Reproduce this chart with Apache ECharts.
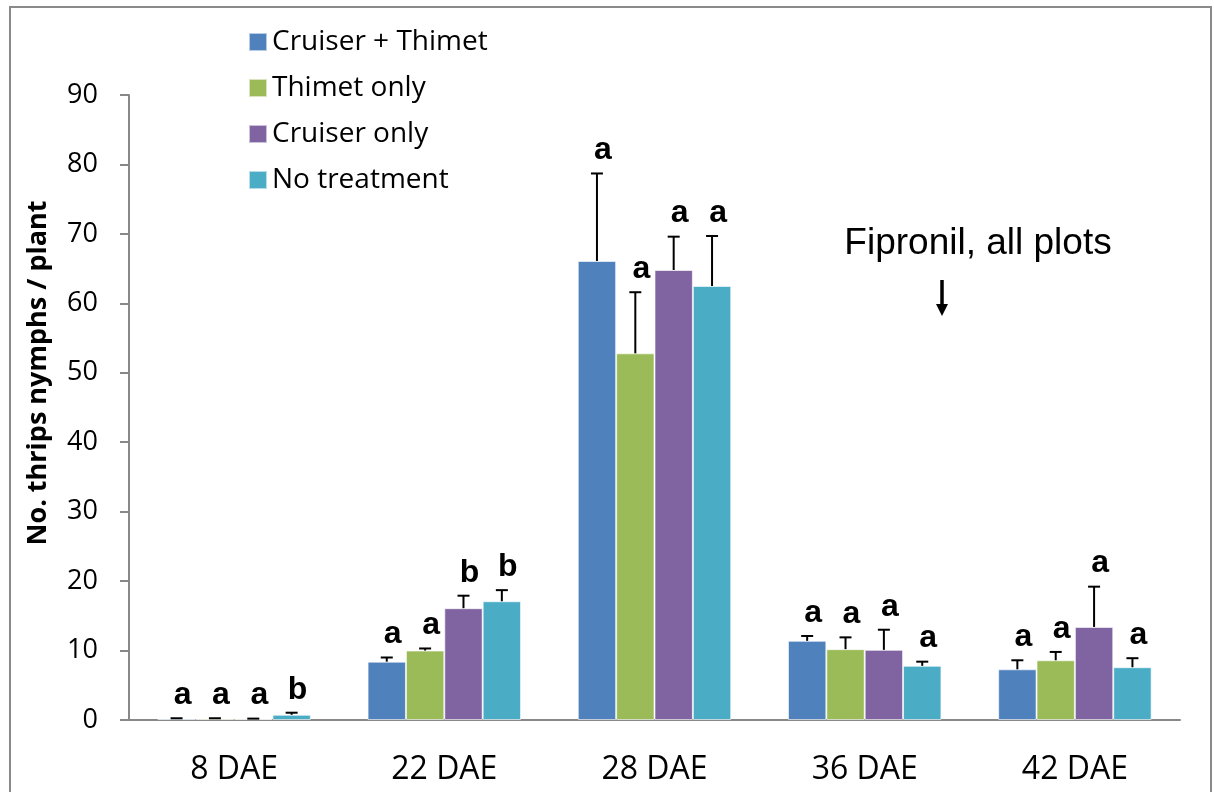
<!DOCTYPE html>
<html>
<head>
<meta charset="utf-8">
<script src="https://cdn.jsdelivr.net/npm/echarts@6/dist/echarts.min.js"></script>
<style>
  html, body { margin: 0; padding: 0; background: #fff; }
  #chart { width: 1214px; height: 792px; }
</style>
</head>
<body>
<div id="chart"></div>
<script>
var categories = ['8 DAE', '22 DAE', '28 DAE', '36 DAE', '42 DAE'];
var seriesNames = ['Cruiser + Thimet', 'Thimet only', 'Cruiser only', 'No treatment'];
var colors = ['#4F81BD', '#9BBB59', '#8064A2', '#4BACC6'];

// means
var cruiserThimet = [0.2, 8.4, 66.1, 11.4, 7.3];
var thimetOnly = [0.2, 10.0, 52.8, 10.2, 8.6];
var cruiserOnly = [0.15, 16.1, 64.8, 10.1, 13.4];
var noTreatment = [0.75, 17.1, 62.5, 7.8, 7.6];

// top of error bars (mean + SE)
var errCruiserThimet = [0.25, 9.0, 78.7, 12.1, 8.6];
var errThimetOnly = [0.25, 10.3, 61.6, 11.9, 9.8];
var errCruiserOnly = [0.2, 17.9, 69.6, 13.0, 19.2];
var errNoTreatment = [1.05, 18.7, 69.7, 8.4, 8.9];

// mean separation letters
var lettersCruiserThimet = ['a', 'a', 'a', 'a', 'a'];
var lettersThimetOnly = ['a', 'a', 'a', 'a', 'a'];
var lettersCruiserOnly = ['a', 'b', 'a', 'a', 'a'];
var lettersNoTreatment = ['b', 'b', 'a', 'a', 'a'];

var yTicks = [0, 10, 20, 30, 40, 50, 60, 70, 80, 90];

var means = [cruiserThimet, thimetOnly, cruiserOnly, noTreatment];
var errs = [errCruiserThimet, errThimetOnly, errCruiserOnly, errNoTreatment];
var letters = [lettersCruiserThimet, lettersThimetOnly, lettersCruiserOnly, lettersNoTreatment];

var gapRatio = 0.27;
var textFont = 'Open Sans';

var dom = document.getElementById('chart');
var myChart = echarts.init(dom);

function errorRenderer(k) {
    return function (params, api) {
        var ci = api.value(0);
        var hi = api.coord([ci, api.value(1)]);
        var lo = api.coord([ci, api.value(2)]);
        var band = api.size([1, 0])[0];
        var bw = band * (1 - gapRatio) / 4;
        var x = hi[0] + (k - 1.5) * bw;
        var cap = 6;
        var st = { stroke: '#000', lineWidth: 2 };
        return {
            type: 'group',
            children: [
                { type: 'line', shape: { x1: x, y1: lo[1], x2: x, y2: hi[1] }, style: st },
                { type: 'line', shape: { x1: x - cap, y1: hi[1], x2: x + cap, y2: hi[1] }, style: st },
                {
                    type: 'text',
                    style: {
                        text: letters[k][params.dataIndex],
                        x: x + 6,
                        y: hi[1] - 7,
                        textAlign: 'center',
                        textVerticalAlign: 'bottom',
                        fontFamily: 'Liberation Sans',
                        fontWeight: 'bold',
                        fontSize: 32,
                        fill: '#000'
                    }
                }
            ]
        };
    };
}

var series = [];
for (var k = 0; k < 4; k++) {
    series.push({
        name: seriesNames[k],
        type: 'bar',
        data: means[k],
        barGap: '0%',
        barCategoryGap: (gapRatio * 100) + '%',
        itemStyle: { color: colors[k], borderColor: 'rgba(255,255,255,0.6)', borderWidth: 1 }
    });
}
for (var k = 0; k < 4; k++) {
    var d = [];
    for (var i = 0; i < categories.length; i++) {
        d.push([i, errs[k][i], means[k][i]]);
    }
    series.push({
        type: 'custom',
        renderItem: errorRenderer(k),
        data: d,
        z: 5,
        silent: true
    });
}

var option = {
    backgroundColor: '#fff',
    animation: false,
    color: colors,
    grid: { left: 129, right: 34, top: 95, bottom: 72, containLabel: false },
    legend: {
        orient: 'vertical',
        left: 243,
        top: 22,
        itemWidth: 18,
        itemHeight: 18,
        itemGap: 16,
        data: seriesNames,
        icon: 'rect',
        textStyle: { fontFamily: textFont, fontSize: 28, color: '#000', lineHeight: 30 }
    },
    xAxis: {
        type: 'category',
        data: categories,
        axisLine: { lineStyle: { color: '#888', width: 2 } },
        axisTick: { length: 10, lineStyle: { color: '#888', width: 2 } },
        axisLabel: { fontFamily: textFont, fontSize: 32, color: '#000', margin: 34 }
    },
    yAxis: {
        type: 'value',
        min: 0,
        max: 90,
        interval: 10,
        splitLine: { show: false },
        axisLine: { show: true, lineStyle: { color: '#888', width: 2 } },
        axisTick: { show: true, length: 9, lineStyle: { color: '#888', width: 2 } },
        axisLabel: {
            fontFamily: textFont, fontSize: 27, color: '#000', margin: 31,
            formatter: function (v) { return yTicks.indexOf(v) >= 0 ? String(v) : ''; }
        }
    },
    graphic: [
        {
            type: 'rect',
            shape: { x: 10, y: 7, width: 1201, height: 800 },
            style: { fill: 'none', stroke: '#8a8a8a', lineWidth: 2 },
            silent: true
        },
        {
            type: 'text',
            x: 38, y: 373,
            rotation: Math.PI / 2,
            style: {
                text: 'No. thrips nymphs / plant',
                textAlign: 'center',
                textVerticalAlign: 'middle',
                fontFamily: textFont,
                fontWeight: 'bold',
                fontSize: 27,
                fill: '#000'
            }
        },
        {
            type: 'text',
            x: 978, y: 244,
            style: {
                text: 'Fipronil, all plots',
                textAlign: 'center',
                textVerticalAlign: 'middle',
                fontFamily: 'Liberation Sans',
                fontSize: 37,
                fill: '#000'
            }
        },
        {
            type: 'line',
            shape: { x1: 942, y1: 280, x2: 942, y2: 306 },
            style: { stroke: '#000', lineWidth: 3.5 }
        },
        {
            type: 'polygon',
            shape: { points: [[936, 304], [948, 304], [942, 316]] },
            style: { fill: '#000' }
        }
    ],
    series: series
};

myChart.setOption(option, true);
</script>
</body>
</html>
